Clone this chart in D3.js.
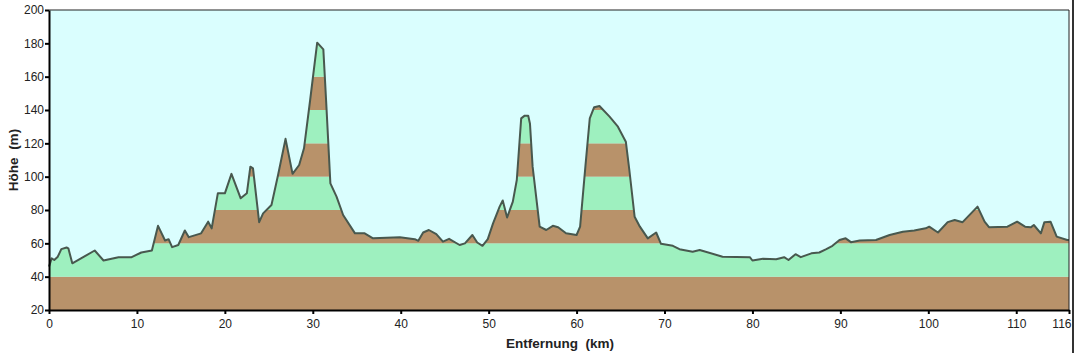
<!DOCTYPE html>
<html>
<head>
<meta charset="utf-8">
<script src="https://cdn.jsdelivr.net/npm/d3@7"></script>
<style>
  body { margin: 0; background: #fff; }
  svg text { font-family: "Liberation Sans", "DejaVu Sans", sans-serif; }
</style>
</head>
<body>
<svg id="chart"></svg>
<script>
// elevation profile (km, m)
let km = [0, 0.3, 0.6, 1.0, 1.4, 2.0, 2.2, 2.65, 5.2, 6.2, 7.9, 9.4, 10.5, 11.7, 12.4, 13.2, 13.6, 14.0, 14.7,
  15.45, 15.9, 17.3, 18.1, 18.5, 19.2, 20.0, 20.75, 21.8, 22.5, 22.9, 23.2, 23.9, 24.35, 25.3, 26.05, 26.9, 27.7,
  28.45, 29.0, 29.7, 30.5, 31.2, 31.55, 32.0, 32.7, 33.45, 34.8, 35.9, 36.85, 39.9, 41.6, 42.0, 42.55, 43.2, 44.05,
  44.8, 45.5, 46.7, 47.3, 48.15, 48.7, 49.3, 49.9, 50.5, 51.25, 51.6, 52.1, 52.75, 53.2, 53.7, 54.1, 54.5, 54.7,
  55.0, 55.8, 56.55, 57.3, 57.9, 58.8, 60.0, 60.4, 61.0, 61.5, 62.0, 62.6, 63.75, 64.7, 65.6, 66.0, 66.6, 67.2,
  68.1, 69.05, 69.6, 70.95, 71.7, 73.2, 74.0, 76.6, 79.7, 80.0, 81.2, 82.7, 83.6, 84.1, 84.9, 85.5, 86.7, 87.6,
  88.4, 89.1, 89.9, 90.6, 91.2, 92.2, 94.05, 95.6, 97.1, 98.4, 99.7, 100.1, 101.1, 102.2, 103.0, 103.9, 105.6,
  106.4, 106.9, 109.0, 110.1, 111.0, 111.65, 112.0, 112.8, 113.2, 113.9, 114.6, 115.8, 116]
let elev = [46, 51, 50, 52, 56.5, 57.5, 57, 48, 55.7, 49.7, 51.7, 51.7, 54.5, 55.7, 70.5, 61.7, 62.5, 57.7, 59,
  67.7, 63.7, 66, 73, 69, 90, 90, 101.7, 87, 90, 106, 105, 72.7, 78, 83, 101, 122.7, 101.7,
  107, 117, 146, 180.4, 176.4, 142, 96, 88, 77, 66, 66, 63, 63.7, 62.5, 61.5, 66.5, 68, 65.5,
  61, 62.7, 59, 60, 65, 60.5, 58.5, 62.5, 72, 82, 85.7, 75.5, 85, 98, 135, 136.6, 136.6, 131.7,
  106, 70, 68, 70.5, 69.7, 66, 65, 70, 106, 135, 141.7, 142.4, 136, 130, 121, 104, 76, 70,
  63, 66.5, 59.7, 58.5, 56.5, 55, 56, 52, 51.7, 49.7, 50.7, 50.5, 51.7, 50, 53.5, 51.7, 54, 54.5,
  56.5, 58.5, 62, 63, 60.7, 61.7, 62, 65, 67, 67.7, 69, 70, 66.5, 72.7, 74, 72.7, 82,
  73, 69.7, 70, 73, 70, 69.6, 71, 66, 72.7, 73, 64, 62, 62]
let xTicks = [0, 10, 20, 30, 40, 50, 60, 70, 80, 90, 100, 110, 116]
let yTicks = [20, 40, 60, 80, 100, 120, 140, 160, 180, 200]
let bandColors = ["#b8926a", "#9ef0bf"]

let W = 1076, H = 353
let svg = d3.select("#chart").attr("width", W).attr("height", H)
let mLeft = 49, mRight = 1069, mTop = 10, mBottom = 310

let x = d3.scaleLinear().domain([0, 116]).range([mLeft, mRight])
let y = d3.scaleLinear().domain([20, 200]).range([mBottom, mTop])

let data = km.map((k, i) => ({k: k, e: elev[i]}))

svg.append("rect").attr("x", mLeft).attr("y", mTop)
  .attr("width", mRight - mLeft).attr("height", mBottom - mTop).style("fill", "#dafefe")

let area = d3.area().x(d => x(d.k)).y0(y(20)).y1(d => y(d.e))
svg.append("clipPath").attr("id", "under").append("path").datum(data).attr("d", area)

let bands = d3.range(20, 200, 20)
svg.append("g").attr("clip-path", "url(#under)")
  .selectAll("rect").data(bands).enter().append("rect")
  .attr("x", mLeft).attr("width", mRight - mLeft)
  .attr("y", d => y(d + 20)).attr("height", d => y(d) - y(d + 20))
  .style("fill", (d, i) => bandColors[i % 2])

let line = d3.line().x(d => x(d.k)).y(d => y(d.e))
svg.append("path").datum(data).attr("d", line)
  .style("fill", "none").style("stroke", "#48584e").style("stroke-width", 2).style("stroke-linejoin", "round")

// frame
svg.append("path").attr("d", `M${mLeft},${mTop}H${mRight}V${mBottom}`)
  .style("fill", "none").style("stroke", "#222").style("stroke-width", 1)
svg.append("line").attr("x1", 1073).attr("x2", 1073).attr("y1", 0).attr("y2", H)
  .style("stroke", "#333").style("stroke-width", 2)

let xAxis = d3.axisBottom(x).tickValues(xTicks).tickSize(4).tickSizeOuter(0)
let gx = svg.append("g").attr("transform", "translate(0," + mBottom + ")").call(xAxis)
let yAxis = d3.axisLeft(y).tickValues(yTicks).tickSize(4).tickSizeOuter(0)
let gy = svg.append("g").attr("transform", "translate(" + mLeft + ",0)").call(yAxis)
;[gx, gy].forEach(g => {
  g.select(".domain").style("stroke", "#000").style("stroke-width", 2)
  g.selectAll(".tick line").style("stroke", "#000").style("stroke-width", 2)
  g.selectAll("text").style("font-size", "12px").style("fill", "#222")
})
gx.selectAll("text").attr("dy", "0.9em")
gx.selectAll(".tick").filter(d => d == 116).select("text")
  .attr("text-anchor", "end").attr("x", 2)
gy.selectAll("text").attr("x", -5)

svg.append("text").attr("x", 560).attr("y", 348).attr("text-anchor", "middle")
  .style("font-size", "13.5px").style("font-weight", "bold").style("fill", "#222")
  .attr("xml:space", "preserve").text("Entfernung  (km)")
svg.append("text").attr("transform", "translate(18,160) rotate(-90)").attr("text-anchor", "middle")
  .style("font-size", "13.5px").style("font-weight", "bold").style("fill", "#222")
  .attr("xml:space", "preserve").text("Höhe  (m)")
</script>
</body>
</html>
